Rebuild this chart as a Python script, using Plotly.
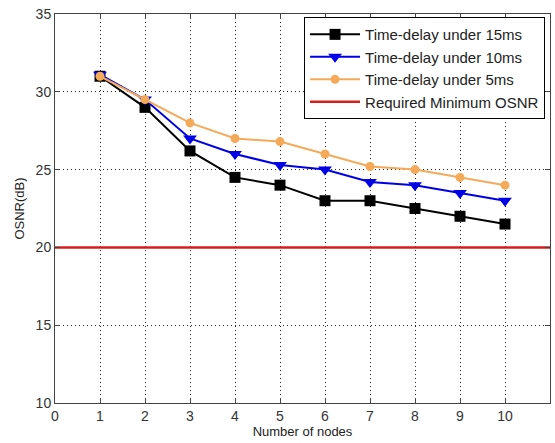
import plotly.graph_objects as go

nodes = [1, 2, 3, 4, 5, 6, 7, 8, 9, 10]
delay15 = [31.0, 29.0, 26.2, 24.5, 24.0, 23.0, 23.0, 22.5, 22.0, 21.5]
delay10 = [31.1, 29.5, 27.0, 26.0, 25.3, 25.0, 24.2, 24.0, 23.5, 23.0]
delay5 = [31.0, 29.5, 28.0, 27.0, 26.8, 26.0, 25.2, 25.0, 24.5, 24.0]
required_x = [0, 11]
required_y = [20, 20]

fig = go.Figure()
fig.add_trace(go.Scatter(x=nodes, y=delay15, mode="lines+markers", name="Time-delay under 15ms",
                         line=dict(color="black", width=2),
                         marker=dict(symbol="square", size=11, color="black")))
fig.add_trace(go.Scatter(x=nodes, y=delay10, mode="lines+markers", name="Time-delay under 10ms",
                         line=dict(color="rgb(0,0,230)", width=2),
                         marker=dict(symbol="triangle-down", size=12, color="rgb(0,0,230)")))
fig.add_trace(go.Scatter(x=nodes, y=delay5, mode="lines+markers", name="Time-delay under 5ms",
                         line=dict(color="rgb(245,170,90)", width=2),
                         marker=dict(symbol="circle", size=9, color="rgb(245,170,90)")))
fig.add_trace(go.Scatter(x=required_x, y=required_y, mode="lines", name="Required Minimum OSNR",
                         line=dict(color="rgb(215,30,30)", width=2.5)))

axis_common = dict(showline=True, linecolor="#444", linewidth=1, mirror="ticks",
                   ticks="inside", ticklen=5, tickcolor="#444",
                   showgrid=True, gridcolor="#222", griddash="1px,3px", gridwidth=1,
                   zeroline=False, tickfont=dict(family="Arial", size=14, color="#333"))

fig.update_xaxes(range=[0, 11], tickvals=list(range(0, 12)), **axis_common,
                 title=dict(text="Number of nodes", font=dict(family="Arial", size=13, color="#222"), standoff=2))
fig.update_yaxes(range=[10, 35], tickvals=[10, 15, 20, 25, 30, 35], **axis_common,
                 title=dict(text="OSNR(dB)", font=dict(family="Arial", size=13, color="#222"), standoff=8))

fig.update_layout(
    width=555, height=443,
    margin=dict(l=55, r=5, t=14, b=40),
    plot_bgcolor="white", paper_bgcolor="white",
    showlegend=True,
    legend=dict(x=0.99, y=0.992, xanchor="right", yanchor="top",
                bordercolor="black", borderwidth=1, bgcolor="white",
                font=dict(family="Arial", size=15, color="#222"),
                tracegroupgap=0, itemwidth=50),
)

fig.write_html("out.html")
